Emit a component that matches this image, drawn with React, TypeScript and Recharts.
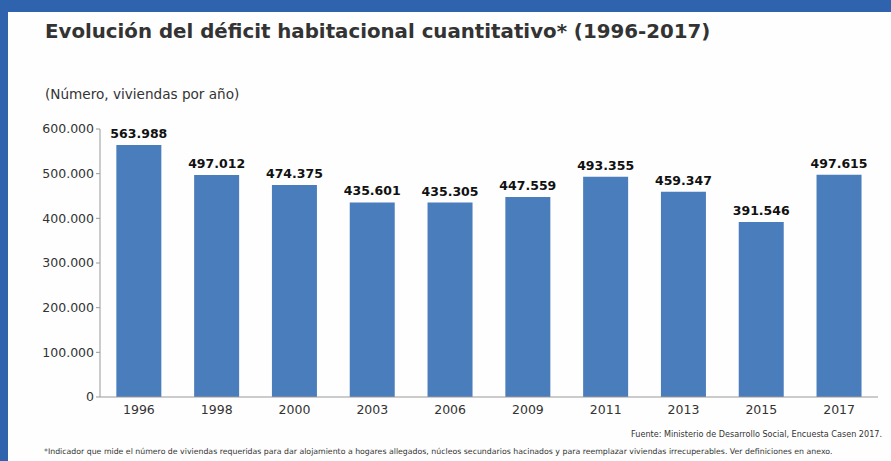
import React from 'react';
import { BarChart, Bar, XAxis, YAxis, LabelList } from 'recharts';

const years = ['1996', '1998', '2000', '2003', '2006', '2009', '2011', '2013', '2015', '2017'];
const deficit = [563988, 497012, 474375, 435601, 435305, 447559, 493355, 459347, 391546, 497615];
const yTicks = [0, 100000, 200000, 300000, 400000, 500000, 600000];

const font = '"DejaVu Sans", Verdana, sans-serif';

// thousands with dots, as in the Spanish original
const fmt = (v: number) => v.toString().replace(/\B(?=(\d{3})+(?!\d))/g, '.');

const App: React.FC = () => {
  const chartData = years.map((y, i) => ({ year: y, value: deficit[i] }));

  return (
    <div style={{ position: 'absolute', left: 0, top: 0, width: 891, height: 461, background: '#2f63ae', overflow: 'hidden', fontFamily: font }}>
      <div style={{ position: 'absolute', left: 8, top: 12, right: 0, bottom: 0, background: '#fefefe' }} />
      <div style={{ position: 'absolute', left: 45, top: 20, fontSize: 19.8, fontWeight: 'bold', color: '#333' }}>
        Evolución del déficit habitacional cuantitativo* (1996-2017)
      </div>
      <div style={{ position: 'absolute', left: 45, top: 86, fontSize: 13.6, color: '#333' }}>
        (Número, viviendas por año)
      </div>
      <div style={{ position: 'absolute', left: 0, top: 0 }}>
        <BarChart width={891} height={461} data={chartData} margin={{ top: 129, right: 13, bottom: 34, left: 0 }} barCategoryGap="21%">
          <XAxis
            dataKey="year"
            axisLine={{ stroke: '#999' }}
            tickLine={false}
            tick={{ fill: '#333', fontSize: 12.5, fontFamily: font }}
            height={30}
          />
          <YAxis
            width={100}
            domain={[0, 600000]}
            ticks={yTicks}
            tickFormatter={fmt}
            axisLine={{ stroke: '#999' }}
            tickLine={{ stroke: '#999' }}
            tickSize={4}
            tick={{ fill: '#333', fontSize: 12.5, fontFamily: font }}
          />
          <Bar dataKey="value" fill="#4a7dbb" isAnimationActive={false}>
            <LabelList
              dataKey="value"
              position="top"
              offset={7}
              formatter={(v: number) => fmt(v)}
              style={{ fill: '#111', fontSize: 12.5, fontWeight: 'bold', fontFamily: font }}
            />
          </Bar>
        </BarChart>
      </div>
      <div style={{ position: 'absolute', right: 9, top: 429, fontSize: 8.1, color: '#333' }}>
        Fuente: Ministerio de Desarrollo Social, Encuesta Casen 2017.
      </div>
      <div style={{ position: 'absolute', left: 44, top: 447, fontSize: 7.8, color: '#333' }}>
        *Indicador que mide el número de viviendas requeridas para dar alojamiento a hogares allegados, núcleos secundarios hacinados y para reemplazar viviendas irrecuperables. Ver definiciones en anexo.
      </div>
    </div>
  );
};

export default App;
